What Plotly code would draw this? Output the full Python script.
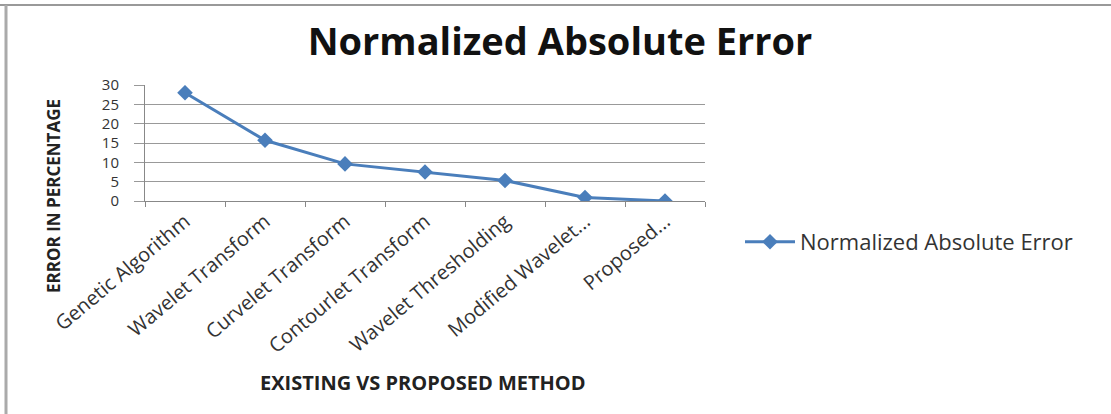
import plotly.graph_objects as go

categories = ["Genetic Algorithm", "Wavelet Transform", "Curvelet Transform",
              "Contourlet Transform", "Wavelet Thresholding", "Modified Wavelet...",
              "Proposed..."]
values = [28.0, 15.7, 9.6, 7.5, 5.3, 0.9, 0.0]
series_name = "Normalized Absolute Error"
y_ticks = [0, 5, 10, 15, 20, 25, 30]

W, H = 1111, 414
L, R, T, B = 145, 406, 85, 213
pw, ph = W - L - R, H - T - B

def px(x):
    return (x - L) / pw

def py(y):
    return (H - B - y) / ph

font = "Open Sans"
blue = "#4A7EBB"

fig = go.Figure()
fig.add_trace(go.Scatter(
    x=categories, y=values, name=series_name, mode="lines+markers",
    line=dict(color=blue, width=3),
    marker=dict(symbol="diamond", size=12, color=blue),
))

fig.update_layout(
    width=W, height=H,
    margin=dict(l=L, r=R, t=T, b=B),
    paper_bgcolor="white", plot_bgcolor="white",
    font=dict(family=font, color="#333333"),
    title=dict(text="<b>Normalized Absolute Error</b>", xref="container", yref="container",
               x=560 / W, y=1 - 42 / H, xanchor="center", yanchor="middle",
               font=dict(size=38, color="#111111", family=font)),
    showlegend=True,
    legend=dict(x=px(740), y=py(242), xanchor="left", yanchor="middle",
                font=dict(size=22, color="#333333"), bgcolor="rgba(0,0,0,0)",
                itemwidth=50),
    xaxis=dict(
        type="category", tickangle=-40, tickfont=dict(size=20, color="#333333"),
        showgrid=False, showline=True, linecolor="#888888", linewidth=1,
        ticks="outside", tickson="boundaries", ticklen=5, tickcolor="#888888",
        range=[-0.5, 6.5],
    ),
    yaxis=dict(
        range=[0, 30], tickvals=y_ticks, tickfont=dict(size=15, color="#333333"),
        showgrid=True, gridcolor="#999999", gridwidth=1,
        showline=True, linecolor="#888888", linewidth=1,
        ticks="outside", ticklen=10, tickcolor="#999999", zeroline=False,
        ticklabelstandoff=12,
    ),
    annotations=[
        dict(text="<b>ERROR IN PERCENTAGE</b>", x=px(53), y=py(196), xref="paper", yref="paper",
             textangle=-90, showarrow=False, font=dict(size=17, color="#222222"),
             xanchor="center", yanchor="middle"),
        dict(text="<b>EXISTING VS PROPOSED METHOD</b>", x=px(423), y=py(383), xref="paper",
             yref="paper", showarrow=False, font=dict(size=20, color="#222222"),
             xanchor="center", yanchor="middle"),
    ],
    shapes=[
        dict(type="line", xref="paper", yref="paper", x0=px(0), x1=px(W), y0=py(5), y1=py(5),
             line=dict(color="#999999", width=2)),
        dict(type="line", xref="paper", yref="paper", x0=px(6), x1=px(6), y0=py(5), y1=py(H),
             line=dict(color="#aaaaaa", width=3)),
    ],
)

fig.write_html("out.html")
